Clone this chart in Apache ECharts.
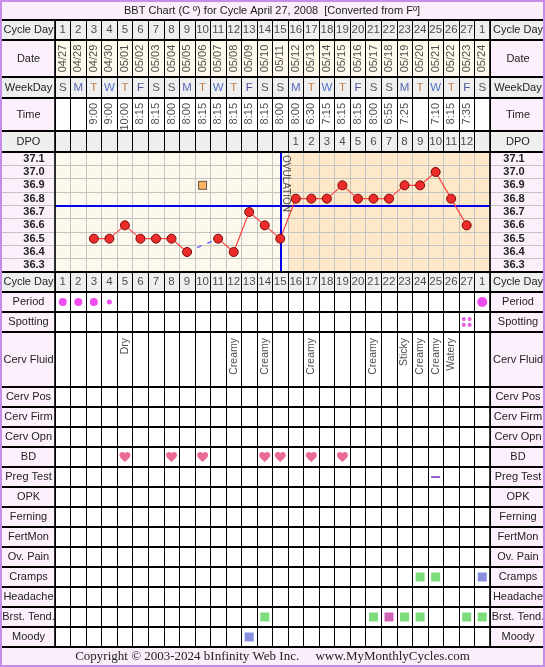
<!DOCTYPE html>
<html><head><meta charset="utf-8">
<script src="https://cdn.jsdelivr.net/npm/echarts@6/dist/echarts.min.js"></script>
<style>html,body{margin:0;padding:0;background:#fff}#c{width:545px;height:667px}</style>
</head><body><div id="c"></div>
<script>
// ---------------- DATA ----------------
const titleText = 'BBT Chart (C \u00ba) for Cycle April 27, 2008\u00a0\u00a0[Converted from F\u00ba]';
const copyrightText = 'Copyright \u00a9 2003-2024 bInfinity Web Inc.\u00a0\u00a0\u00a0\u00a0\u00a0www.MyMonthlyCycles.com';
const cycleDays = ['1','2','3','4','5','6','7','8','9','10','11','12','13','14','15','16','17','18','19','20','21','22','23','24','25','26','27','1'];
const dates = ['04/27','04/28','04/29','04/30','05/01','05/02','05/03','05/04','05/05','05/06','05/07','05/08','05/09','05/10','05/11','05/12','05/13','05/14','05/15','05/16','05/17','05/18','05/19','05/20','05/21','05/22','05/23','05/24'];
const weekDays = ['S','M','T','W','T','F','S','S','M','T','W','T','F','S','S','M','T','W','T','F','S','S','M','T','W','T','F','S'];
const times = ['','','9:00','9:00','10:00','8:15','8:15','8:00','8:00','8:15','8:15','8:15','8:15','8:15','8:00','8:00','6:30','7:15','8:15','8:15','8:00','6:55','7:25','','7:10','8:15','7:35',''];
const dpo = ['','','','','','','','','','','','','','','','1','2','3','4','5','6','7','8','9','10','11','12',''];
const tempTicks = ['36.3','36.4','36.5','36.6','36.7','36.8','36.9','37.0','37.1'];
const temps = [null,null,36.5,36.5,36.6,36.5,36.5,36.5,36.4,null,36.5,36.4,36.7,36.6,36.5,36.8,36.8,36.8,36.9,36.8,36.8,36.8,36.9,36.9,37.0,36.8,36.6,null];
const discardedDay = 10, discardedTemp = 36.9;
const coverline = 36.75;
const ovulationDay = 15;
const period = ['medium','medium','medium','light','','','','','','','','','','','','','','','','','','','','','','','','heavy'];
const spottingDays = [27];
const cervFluid = ['','','','','Dry','','','','','','','Creamy','','Creamy','','','Creamy','','','','Creamy','','Sticky','Creamy','Creamy','Watery','',''];
const bdDays = [5,8,10,14,15,17,19];
const pregTestDays = [25];
const cramps = [[24,'low'],[25,'low'],[28,'mid']];
const brstTend = [[14,'low'],[21,'low'],[22,'high'],[23,'low'],[24,'low'],[27,'low'],[28,'low']];
const moody = [[13,'mid']];
const rowLabels = ['Cycle Day','Date','WeekDay','Time','DPO','Cycle Day','Period','Spotting','Cerv Fluid','Cerv Pos','Cerv Firm','Cerv Opn','BD','Preg Test','OPK','Ferning','FertMon','Ov. Pain','Cramps','Headache','Brst. Tend.','Moody'];

// ---------------- STYLE / LAYOUT ----------------
const FONT = '"Liberation Sans", Arial, sans-serif';
const SERIF = '"Liberation Serif", "Times New Roman", serif';
const X0 = 2, XL = 55, XR = 490, X1 = 543;
const GRAY = '#efefef', PINK = '#fdf0fd', CELLCREAM = '#fffaec', CREAM = '#fdf8ec', TAN = '#fde8c7', HEAD = '#f9eef9';
const levelColor = {low:'#5cd45c', mid:'#6b74d8', high:'#c63fa2'};
const periodSize = {light:5, medium:8, heavy:10};
// row boxes [top,bottom,labelBg,cellBg] in same order as rowLabels
const rowBoxes = [
  [20,40,GRAY,GRAY],[40,77,PINK,CELLCREAM],[77,98,GRAY,GRAY],[98,131,PINK,null],[131,152,GRAY,GRAY],
  [272,292,GRAY,GRAY],[292,312,PINK,null],[312,332,PINK,null],[332,387,PINK,null],[387,407,PINK,null],
  [407,427,PINK,null],[427,447,PINK,null],[447,467,PINK,null],[467,487,PINK,null],[487,507,PINK,null],
  [507,527,PINK,null],[527,547,PINK,null],[547,567,PINK,null],[567,587,PINK,null],[587,607,PINK,null],
  [607,627,PINK,null],[627,647,PINK,null]
];
const TEMP_TOP = 152, TEMP_BOTTOM = 272;

const HEART = 'path://M12 21.35l-1.45-1.32C5.4 15.36 2 12.28 2 8.5 2 5.42 4.42 3 7.5 3c1.74 0 3.41.81 4.5 2.09C13.09 3.81 14.76 3 16.5 3 19.58 3 22 5.42 22 8.5c0 3.78-3.4 6.86-8.55 11.54L12 21.35z';
const DOTS4 = 'path://M0,2.5a2.5,2.5 0 1,0 5,0a2.5,2.5 0 1,0 -5,0zM7,2.5a2.5,2.5 0 1,0 5,0a2.5,2.5 0 1,0 -5,0zM0,9.5a2.5,2.5 0 1,0 5,0a2.5,2.5 0 1,0 -5,0zM7,9.5a2.5,2.5 0 1,0 5,0a2.5,2.5 0 1,0 -5,0z';

// ---------------- BUILD ----------------
const grids = [], xAxes = [], yAxes = [], series = [], graphics = [];

function addRow(top, bottom, bg) {
  const gi = grids.length;
  grids.push({left: XL, right: 545 - XR, top: top, height: bottom - top, show: !!bg, backgroundColor: bg || 'transparent', borderWidth: 0});
  xAxes.push({type:'category', gridIndex: gi, data: dates, boundaryGap: true,
    axisLine:{show:false}, axisTick:{show:false}, axisLabel:{show:false},
    splitLine:{show:true, interval:0, lineStyle:{color:'#000', width:1}}, z:3});
  yAxes.push({type:'value', gridIndex: gi, min:0, max:1, show:false});
  return {xi: xAxes.length - 1, yi: yAxes.length - 1};
}
function textSeries(r, texts, labelCfg, yv, colorFn) {
  const data = [];
  texts.forEach((t, i) => { if (t) data.push({value:[i, yv], name:t, label: colorFn ? {color: colorFn(t)} : {}}); });
  series.push({type:'scatter', xAxisIndex:r.xi, yAxisIndex:r.yi, symbol:'circle', symbolSize:1,
    itemStyle:{color:'rgba(0,0,0,0)'}, silent:true, z:5,
    label: Object.assign({show:true, position:'inside', formatter:'{b}', color:'#222', fontFamily:FONT, fontSize:11}, labelCfg),
    data: data});
}
function markSeries(r, items, symbol, size, colorOf) {
  series.push({type:'scatter', xAxisIndex:r.xi, yAxisIndex:r.yi, silent:true, z:5, symbol: symbol,
    data: items.map(it => ({value:[it.day - 1, 0.5], symbolSize: it.size || size, itemStyle:{color: colorOf(it)}}))});
}

// rows
const rows = rowBoxes.map(b => addRow(b[0], b[1], b[3]));
const weekColor = {S:'#333333', M:'#3447a8', T:'#b8621e', W:'#2a55bb', F:'#25307e'};
textSeries(rows[0], cycleDays, {fontSize:11.5}, 0.5);
textSeries(rows[1], dates, {rotate:90}, 0.5);
textSeries(rows[2], weekDays, {fontSize:11.5}, 0.5, t => weekColor[t]);
textSeries(rows[3], times, {rotate:90, align:'right', padding:[0,5,0,0]}, 1);
textSeries(rows[4], dpo, {fontSize:11.5}, 0.5);
textSeries(rows[5], cycleDays, {fontSize:11.5}, 0.5);
// Period
markSeries(rows[6], period.map((p,i)=>({day:i+1, p})).filter(o=>o.p).map(o=>({day:o.day, size:periodSize[o.p]})), 'circle', 8, () => '#ea22ea');
// Spotting
markSeries(rows[7], spottingDays.map(d=>({day:d})), DOTS4, 10, () => '#e03fd6');
// Cerv fluid
textSeries(rows[8], cervFluid, {rotate:90, align:'right', padding:[0,6,0,0], fontSize:10.5}, 1);
// BD
markSeries(rows[12], bdDays.map(d=>({day:d})), HEART, [11,10], () => '#e5467f');
// Preg test
markSeries(rows[13], pregTestDays.map(d=>({day:d})), 'rect', [9,2], () => '#7a3cc0');
// Cramps, Brst Tend, Moody
markSeries(rows[18], cramps.map(c=>({day:c[0], lv:c[1]})), 'rect', 9, it => levelColor[it.lv]);
markSeries(rows[20], brstTend.map(c=>({day:c[0], lv:c[1]})), 'rect', 9, it => levelColor[it.lv]);
markSeries(rows[21], moody.map(c=>({day:c[0], lv:c[1]})), 'rect', 9, it => levelColor[it.lv]);

// Temperature grid
const tg = grids.length;
grids.push({left: XL, right: 545 - XR, top: TEMP_TOP, height: TEMP_BOTTOM - TEMP_TOP, show:false});
xAxes.push({type:'category', gridIndex: tg, data: dates, boundaryGap:true,
  axisLine:{show:false}, axisTick:{show:false}, axisLabel:{show:false},
  splitLine:{show:true, interval:0, lineStyle:{color:'#c4c4c4', width:1}}, z:3});
const txi = xAxes.length - 1;
const tempMin = parseFloat(tempTicks[0]) - 0.05, tempMax = parseFloat(tempTicks[tempTicks.length-1]) + 0.05;
yAxes.push({type:'value', gridIndex: tg, min: tempMin, max: tempMax, show:false});
const tyv = yAxes.length - 1;
const catAxis = (pos, margin) => ({type:'category', gridIndex: tg, data: tempTicks, position: pos, boundaryGap:true,
  axisLine:{show:false},
  axisTick:{show:true, interval:0, length:53, lineStyle:{color:'#c4c4c4'}},
  axisLabel:{interval:0, margin: margin, align:'center', fontWeight:'bold', fontSize:11, color:'#222', fontFamily:FONT},
  splitLine:{show: pos === 'left', interval:0, lineStyle:{color:'#c4c4c4', width:1}}, z:3});
yAxes.push(catAxis('left', 21));
yAxes.push(catAxis('right', 24));
yAxes.push({type:'value', gridIndex: tg, min:0, max:1, show:false});
const tyb = yAxes.length - 1;

// background phase bars
series.push({type:'bar', xAxisIndex: txi, yAxisIndex: tyb, silent:true, z:1, barCategoryGap:'0%', barGap:'0%',
  data: dates.map((d,i) => ({value:1, itemStyle:{color: (i + 1) > ovulationDay ? TAN : CREAM}}))});
// bridge over gaps (dashed)
const bridge = temps.map(() => null);
temps.forEach((t,i) => {
  if (t == null && i > 0 && i < temps.length-1 && temps[i-1] != null && temps[i+1] != null) { bridge[i-1] = temps[i-1]; bridge[i+1] = temps[i+1]; }
});
series.push({type:'line', xAxisIndex: txi, yAxisIndex: tyv, silent:true, z:4, symbol:'none', connectNulls:true,
  lineStyle:{color:'#5a5aff', width:1.2, type:[5,6]}, data: bridge});
// main temperature line
series.push({type:'line', xAxisIndex: txi, yAxisIndex: tyv, silent:true, z:6, connectNulls:false,
  symbol:'circle', symbolSize:9,
  lineStyle:{color:'#ff4040', width:1.2},
  itemStyle:{color:'#ee2b2b', borderColor:'#7a0a0a', borderWidth:1},
  data: temps,
  markLine:{silent:true, symbol:['none','none'], label:{show:false},
    lineStyle:{color:'#0000ee', width:2, type:'solid'},
    data:[{xAxis: dates[ovulationDay-1]}, {yAxis: coverline}]}});
// discarded temp
series.push({type:'scatter', xAxisIndex: txi, yAxisIndex: tyv, silent:true, z:6, symbol:'rect', symbolSize:8,
  itemStyle:{color:'#ffa040', borderColor:'#333', borderWidth:1}, data:[[discardedDay-1, discardedTemp]]});
// OVULATION label
series.push({type:'scatter', xAxisIndex: txi, yAxisIndex: tyv, silent:true, z:7, symbol:'circle', symbolSize:1,
  itemStyle:{color:'rgba(0,0,0,0)'},
  label:{show:true, position:'inside', formatter:'OVULATION', rotate:-90, align:'left', verticalAlign:'bottom',
    padding:[0,0,0,3], fontSize:10, color:'#222', fontFamily:FONT},
  data:[[ovulationDay-1, tempMax]]});

// ---------------- GRAPHICS (table frame & labels) ----------------
graphics.push({type:'rect', z:0, shape:{x:X0, y:2, width:X1-X0, height:18}, style:{fill:HEAD}});
graphics.push({type:'text', z:10, x:272, y:11, style:{text:titleText, fontSize:11, fontFamily:FONT, fill:'#222', align:'center', verticalAlign:'middle'}});
graphics.push({type:'rect', z:0, shape:{x:X0, y:647, width:X1-X0, height:18}, style:{fill:HEAD}});
graphics.push({type:'text', z:10, x:272.5, y:657, style:{text:copyrightText, fontSize:13, fontFamily:SERIF, fill:'#222', align:'center', verticalAlign:'middle'}});
// label cells
rowBoxes.forEach((b, k) => {
  [[X0, XL, 28.5], [XR, X1, 518]].forEach(c => {
    graphics.push({type:'rect', z:0, shape:{x:c[0], y:b[0], width:c[1]-c[0], height:b[1]-b[0]}, style:{fill:b[2]}});
    graphics.push({type:'text', z:10, x:c[2], y:(b[0]+b[1])/2, style:{text:rowLabels[k], fontSize:11, fontFamily:FONT, fill:'#222', align:'center', verticalAlign:'middle'}});
  });
});
// temperature label columns
[[X0, XL], [XR, X1]].forEach(c => graphics.push({type:'rect', z:0, shape:{x:c[0], y:TEMP_TOP, width:c[1]-c[0], height:TEMP_BOTTOM-TEMP_TOP}, style:{fill:PINK}}));
// horizontal row borders
const borders = new Set();
rowBoxes.forEach(b => { borders.add(b[0]); borders.add(b[1]); });
borders.add(TEMP_TOP); borders.add(TEMP_BOTTOM);
borders.forEach(y => graphics.push({type:'line', z:50, shape:{x1:X0, y1:y, x2:X1, y2:y}, style:{stroke:'#000', lineWidth:2}}));
// vertical borders of label columns
[XL, XR].forEach(x => graphics.push({type:'line', z:50, shape:{x1:x, y1:20, x2:x, y2:647}, style:{stroke:'#000', lineWidth:1.6}}));
// outer frame
graphics.push({type:'rect', z:60, shape:{x:1, y:1, width:543, height:665}, style:{fill:'none', stroke:'#c78be8', lineWidth:2}});

const chart = echarts.init(document.getElementById('c'), null, {renderer:'canvas'});
chart.setOption({animation:false, backgroundColor:'#fff', grid: grids, xAxis: xAxes, yAxis: yAxes, series: series, graphic: graphics});
</script></body></html>
